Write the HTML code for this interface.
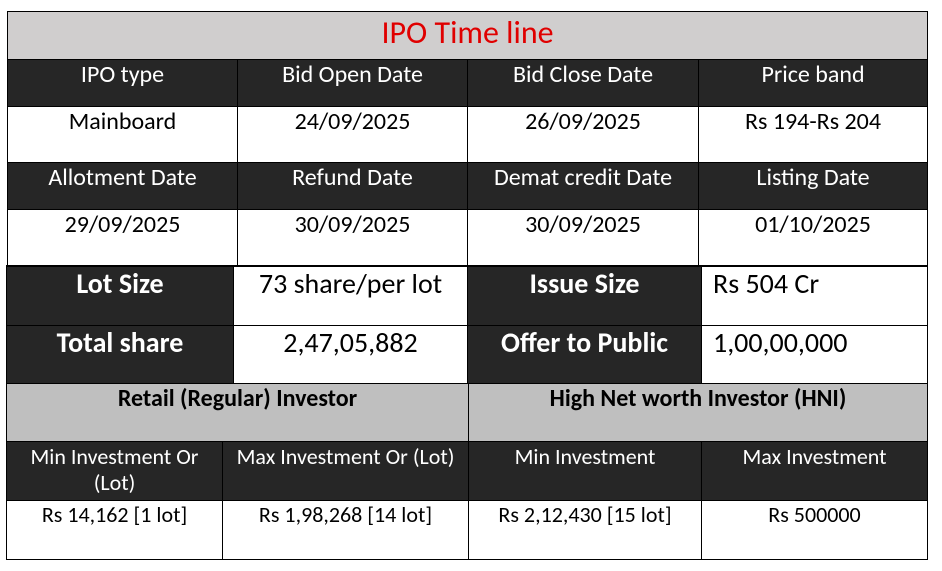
<!DOCTYPE html>
<html><head><meta charset="utf-8"><style>
html,body{margin:0;padding:0;background:#fff;width:942px;height:571px;overflow:hidden}
.c{position:absolute;box-sizing:border-box;border:1px solid #000;font-family:"Carlito","Liberation Sans",sans-serif;font-size:24px;text-align:center;color:#000;line-height:28px;padding-top:1px;white-space:nowrap}
.d{background:#262626;color:#fff}
.g{background:#bfbfbf;font-weight:bold;font-size:24px}
.b{font-weight:bold;font-size:28px;padding-top:3px}
.v{font-size:28px;padding-top:3px}
</style></head><body>
<div class="c" style="left:7px;top:11px;width:921px;height:49px;background:#d0cece;color:#e00000;font-size:32px;line-height:34px;padding-top:4px">IPO Time line</div>

<div class="c d" style="left:7px;top:59px;width:231px;height:48px">IPO type</div>
<div class="c d" style="left:237px;top:59px;width:231px;height:48px">Bid Open Date</div>
<div class="c d" style="left:467px;top:59px;width:232px;height:48px">Bid Close Date</div>
<div class="c d" style="left:698px;top:59px;width:230px;height:48px">Price band</div>

<div class="c" style="left:7px;top:106px;width:231px;height:57px">Mainboard</div>
<div class="c" style="left:237px;top:106px;width:231px;height:57px">24/09/2025</div>
<div class="c" style="left:467px;top:106px;width:232px;height:57px">26/09/2025</div>
<div class="c" style="left:698px;top:106px;width:230px;height:57px">Rs 194-Rs 204</div>

<div class="c d" style="left:7px;top:162px;width:231px;height:48px">Allotment Date</div>
<div class="c d" style="left:237px;top:162px;width:231px;height:48px">Refund Date</div>
<div class="c d" style="left:467px;top:162px;width:232px;height:48px">Demat credit Date</div>
<div class="c d" style="left:698px;top:162px;width:230px;height:48px">Listing Date</div>

<div class="c" style="left:7px;top:209px;width:231px;height:57px">29/09/2025</div>
<div class="c" style="left:237px;top:209px;width:231px;height:57px">30/09/2025</div>
<div class="c" style="left:467px;top:209px;width:232px;height:57px">30/09/2025</div>
<div class="c" style="left:698px;top:209px;width:230px;height:57px">01/10/2025</div>

<div class="c d b" style="left:6px;top:265px;width:228px;height:61px;border-top-width:2px">Lot Size</div>
<div class="c v" style="left:233px;top:265px;width:235px;height:61px;border-top-width:2px">73 share/per lot</div>
<div class="c d b" style="left:467px;top:265px;width:235px;height:61px;border-top-width:2px">Issue Size</div>
<div class="c v" style="left:701px;top:265px;width:227px;height:61px;border-top-width:2px;text-align:left;padding-left:11px">Rs 504 Cr</div>

<div class="c d b" style="left:6px;top:325px;width:228px;height:59px">Total share</div>
<div class="c v" style="left:233px;top:325px;width:235px;height:59px">2,47,05,882</div>
<div class="c d b" style="left:467px;top:325px;width:235px;height:59px">Offer to Public</div>
<div class="c v" style="left:701px;top:325px;width:227px;height:59px;text-align:left;padding-left:11px">1,00,00,000</div>

<div class="c g" style="left:6px;top:383px;width:463px;height:59px;padding-top:1px">Retail (Regular) Investor</div>
<div class="c g" style="left:468px;top:383px;width:460px;height:59px;padding-top:1px">High Net worth Investor (HNI)</div>

<div class="c d" style="left:6px;top:441px;width:217px;height:60px;padding-top:2px;font-size:22px;line-height:26px">Min Investment Or<br>(Lot)</div>
<div class="c d" style="left:222px;top:441px;width:247px;height:60px;padding-top:2px;font-size:22px;line-height:26px">Max Investment Or (Lot)</div>
<div class="c d" style="left:468px;top:441px;width:234px;height:60px;padding-top:2px;font-size:22px;line-height:26px">Min Investment</div>
<div class="c d" style="left:701px;top:441px;width:227px;height:60px;padding-top:2px;font-size:22px;line-height:26px">Max Investment</div>

<div class="c" style="left:6px;top:500px;width:217px;height:60px;padding-top:1px;font-size:22px;line-height:26px">Rs 14,162 [1 lot]</div>
<div class="c" style="left:222px;top:500px;width:247px;height:60px;padding-top:1px;font-size:22px;line-height:26px">Rs 1,98,268 [14 lot]</div>
<div class="c" style="left:468px;top:500px;width:234px;height:60px;padding-top:1px;font-size:22px;line-height:26px">Rs 2,12,430 [15 lot]</div>
<div class="c" style="left:701px;top:500px;width:227px;height:60px;padding-top:1px;font-size:22px;line-height:26px">Rs 500000</div>
</body></html>
